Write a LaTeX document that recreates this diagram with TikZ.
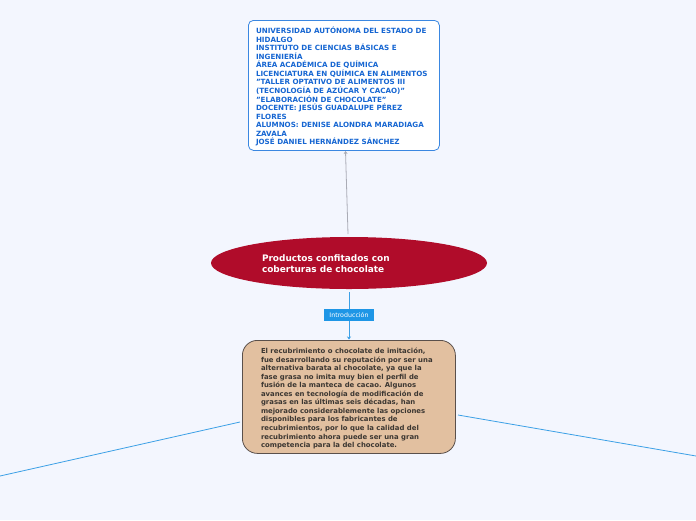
\documentclass[tikz,border=0pt]{standalone}
\usepackage{fontspec}
\setmainfont{DejaVu Sans}
\usetikzlibrary{shapes.geometric,arrows.meta}
\definecolor{bgc}{RGB}{243,246,254}
\definecolor{topborder}{RGB}{58,135,225}
\definecolor{toptext}{RGB}{22,102,210}
\definecolor{crimson}{RGB}{176,12,42}
\definecolor{tan}{RGB}{226,192,160}
\definecolor{tanborder}{RGB}{90,80,75}
\definecolor{browntext}{RGB}{60,55,50}
\definecolor{labelblue}{RGB}{30,150,230}
\definecolor{linkblue}{RGB}{60,160,230}
\definecolor{linkgray}{RGB}{170,172,182}
\tikzset{
  txt/.style={inner sep=0pt, outer sep=0pt, align=left, anchor=north west},
  conn/.style={line width=0.8pt},
}
\begin{document}
\begin{tikzpicture}[x=1pt,y=-1pt]
\useasboundingbox[fill=bgc] (0,0) rectangle (696,520);
% top box
\node[draw=topborder, fill=white, rounded corners=5pt, line width=0.8pt, minimum width=191pt, minimum height=130pt, anchor=north west, inner sep=0pt] (top) at (248,20) {};
\node[txt, text=toptext, font=\fontsize{7.15}{8.55}\selectfont\bfseries] (toptxt) at (256,27) {UNIVERSIDAD AUTÓNOMA DEL ESTADO DE\\
HIDALGO\\
INSTITUTO DE CIENCIAS BÁSICAS E\\
INGENIERÍA\\
ÁREA ACADÉMICA DE QUÍMICA\\
LICENCIATURA EN QUÍMICA EN ALIMENTOS\\
"TALLER OPTATIVO DE ALIMENTOS III\\
(TECNOLOGÍA DE AZÚCAR Y CACAO)"\\
"ELABORACIÓN DE CHOCOLATE"\\
DOCENTE: JESÚS GUADALUPE PÉREZ\\
FLORES\\
ALUMNOS: DENISE ALONDRA MARADIAGA\\
ZAVALA\\
JOSÉ DANIEL HERNÁNDEZ SÁNCHEZ};
% ellipse
\node[ellipse, fill=crimson, minimum width=276pt, minimum height=52pt, inner sep=0pt] (main) at (349,263) {};
\node[txt, text=white, font=\fontsize{8.95}{11}\selectfont\bfseries] (maintxt) at (262,255) {Productos confitados con\\
coberturas de chocolate};
% intro label
\node[fill=labelblue, minimum width=50pt, minimum height=12pt, inner sep=0pt, text=white, font=\fontsize{6.3}{7}\selectfont] (intro) at (349,315) {Introducción};
% brown box
\node[draw=tanborder, fill=tan, rounded corners=15pt, line width=0.8pt, minimum width=213pt, minimum height=113pt, anchor=north west, inner sep=0pt] (body) at (242,340) {};
\node[txt, text=browntext, font=\fontsize{6.9}{8.55}\selectfont\bfseries] (bodytxt) at (261,348) {El recubrimiento o chocolate de imitación,\\
fue desarrollando su reputación por ser una\\
alternativa barata al chocolate, ya que la\\
fase grasa no imita muy bien el perfil de\\
fusión de la manteca de cacao. Algunos\\
avances en tecnología de modificación de\\
grasas en las últimas seis décadas, han\\
mejorado considerablemente las opciones\\
disponibles para los fabricantes de\\
recubrimientos, por lo que la calidad del\\
recubrimiento ahora puede ser una gran\\
competencia para la del chocolate.};
% connectors
\coordinate (gstart) at (348,234);
\coordinate (gend) at (345.5,151);
\draw[conn, linkgray, -{Stealth[length=3pt,width=4pt]}] (gstart) -- (gend);
\coordinate (bstart) at (349,292);
\coordinate (bend) at (349,339.5);
\draw[conn, linkblue] (bstart) -- (intro.north);
\draw[conn, linkblue, -{Stealth[length=3pt,width=4pt]}] (intro.south) -- (bend);
\coordinate (lstart) at (240,422);
\coordinate (lend) at (0,476);
\coordinate (rstart) at (458,415);
\coordinate (rend) at (696,456);
\draw[conn, linkblue] (lstart) -- (lend);
\draw[conn, linkblue] (rstart) -- (rend);
\end{tikzpicture}
\end{document}
